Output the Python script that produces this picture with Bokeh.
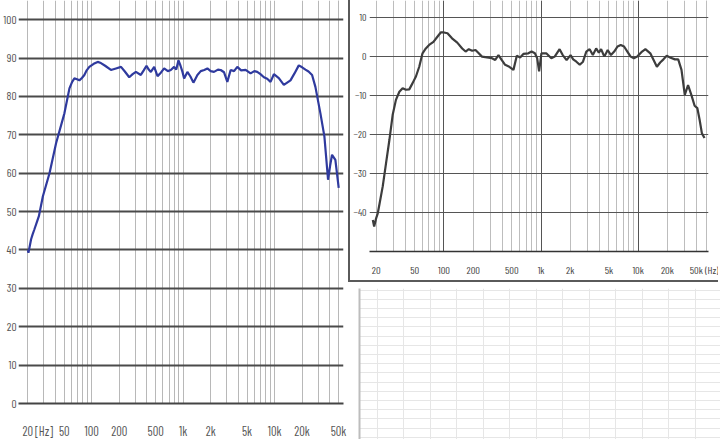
from bokeh.plotting import figure
from bokeh.layouts import row, column
from bokeh.models import FixedTicker, Grid, Range1d
from bokeh.embed import file_html
from bokeh.resources import INLINE

# ---------------- data ----------------
spl_freq = [20, 20.3, 21.7, 22.5, 23.6, 25.3, 26.4, 29.2, 34.5, 40.7, 50.2, 57, 61, 64.6, 69,
            73.2, 78, 83, 88, 94, 105, 116, 126, 140, 162, 184, 209, 230, 257, 280, 304, 344,
            370, 397, 420, 443, 482, 524, 570, 619, 680, 732, 796, 840, 888, 935, 982, 1024,
            1112, 1200, 1294, 1431, 1556, 1700, 1839, 2000, 2174, 2400, 2570, 2800, 3040, 3306,
            3600, 3908, 4300, 4820, 5460, 6000, 6457, 7000, 7636, 8300, 9027, 9820, 11120,
            12620, 14920, 16500, 18390, 20000, 21740, 23500, 25700, 27940, 31700, 35040, 38420,
            40500, 42480, 46200, 50240]
spl_db = [40.0, 39.3, 42.8, 44.0, 45.4, 47.5, 48.8, 54.0, 60.0, 67.8, 75.6, 82.1, 83.8, 84.7, 84.5,
          84.2, 84.8, 85.6, 86.8, 87.7, 88.5, 89.0, 88.7, 88.0, 86.9, 87.3, 87.7, 86.5, 85.0, 85.8,
          86.4, 85.6, 86.8, 88.0, 87.0, 86.4, 87.7, 85.3, 86.2, 87.3, 86.6, 86.9, 87.7, 87.0, 89.4,
          88.0, 86.4, 84.7, 86.4, 85.2, 83.6, 85.6, 86.6, 86.9, 87.3, 86.6, 86.4, 87.0, 86.9, 86.3,
          83.8, 86.9, 86.6, 87.7, 86.8, 86.9, 86.0, 86.6, 86.4, 85.8, 85.0, 84.6, 83.8, 85.8, 84.8,
          83.0, 84.2, 86.0, 88.1, 87.6, 87.0, 86.5, 85.6, 82.5, 75.6, 69.6, 58.3, 62.0, 64.8, 63.5,
          56.2]

rel_freq = [18.5, 19.1, 20, 20.8, 21.6, 23.4, 25.3, 27.4, 29.6, 32.0, 34.7, 37.5, 40.6, 43.9, 47.5,
            51.4, 55.6, 60.1, 65, 70.3, 77.9, 85.5, 92.6, 100, 108.6, 121, 137, 154, 167, 180, 195,
            211, 228, 246, 277, 312, 337, 364, 394, 426, 471, 519, 562, 608, 657, 739, 798, 863,
            911, 954, 1007, 1130, 1275, 1380, 1550, 1670, 1830, 2010, 2140, 2310, 2500, 2700, 2920,
            3160, 3410, 3690, 3930, 4150, 4480, 4850, 5240, 5660, 6120, 6610, 7150, 7730, 8350,
            9030, 9750, 10960, 11850, 13320, 14400, 15570, 16830, 18190, 19660, 21250, 23880,
            25810, 27900, 30160, 32600, 35240, 38090, 40600, 42870, 45280, 48150]
rel_db = [-41.9, -43.6, -41.5, -40.2, -38.0, -33.3, -27.4, -21.4, -15.0, -11.1, -9.0, -8.1, -8.5,
          -8.4, -6.8, -5.1, -2.6, 0.85, 2.1, 3.0, 3.8, 5.1, 6.2, 6.2, 6.0, 4.7, 3.6, 2.1, 1.3, 1.9,
          1.5, 1.7, 0.85, 0.0, -0.2, -0.4, -0.85, 0.4, -0.9, -2.1, -2.6, -3.4, 0.2, -0.2, 0.7, 0.85,
          1.3, 0.85, -0.4, -3.8, 0.85, 0.85, -0.4, 0.0, 1.9, 0.4, -0.9, 0.4, -0.7, -1.3, -2.1, -1.3,
          1.3, 1.9, 0.4, 2.1, 1.0, 1.9, 0.0, 1.7, 0.4, 1.3, 2.6, 3.0, 2.6, 1.3, 0.0, -0.4, 0.0, 1.3,
          1.9, 0.85, -0.85, -2.6, -1.5, -0.7, 0.2, -0.2, -0.7, -0.7, -3.4, -9.8, -7.3, -9.8, -12.6,
          -13.2, -16.2, -19.7, -20.9]

left_y_ticks = [0, 10, 20, 30, 40, 50, 60, 70, 80, 90, 100]
left_x_ticks = [20, 30, 50, 100, 200, 500, 1000, 2000, 5000, 10000, 20000, 50000]
left_x_labels = ["20", "[Hz]", "50", "100", "200", "500", "1k", "2k", "5k", "10k", "20k", "50k"]
right_x_ticks = [20, 50, 100, 200, 500, 1000, 2000, 5000, 10000, 20000, 50000]
right_x_labels = ["20", "50", "100", "200", "500", "1k", "2k", "5k", "10k", "20k", "50k (Hz)"]
right_y_ticks = [-40, -30, -20, -10, 0, 10]
decade_ticks = [100, 1000, 10000]
minor_grid = [m * 10 ** d for d in range(1, 5) for m in range(1, 10) if 20 <= m * 10 ** d <= 50000] + [50000]

FONT = "Barlow Condensed"


def style_axis(ax, size, color, standoff):
    ax.major_label_text_font = FONT
    ax.major_label_text_font_size = size
    ax.major_label_text_color = color
    ax.major_label_standoff = standoff
    ax.major_tick_line_color = None
    ax.minor_tick_line_color = None
    ax.major_tick_out = 0
    ax.major_tick_in = 0
    ax.minor_tick_out = 0
    ax.minor_tick_in = 0


# ---------------- left panel ----------------
p1 = figure(width=348, height=441, x_axis_type="log",
            x_range=Range1d(15.8, 56700), y_range=Range1d(0, 105),
            output_backend="svg", toolbar_location=None, frame_align=False,
            min_border_left=17, min_border_right=5, min_border_top=0, min_border_bottom=36)
p1.outline_line_color = None
p1.yaxis.ticker = FixedTicker(ticks=left_y_ticks)
p1.yaxis.axis_line_color = None
style_axis(p1.yaxis, "11.5px", "#555555", 2)
p1.xaxis.ticker = FixedTicker(ticks=left_x_ticks)
p1.xaxis.major_label_overrides = {t: l for t, l in zip(left_x_ticks, left_x_labels)}
p1.xaxis.axis_line_color = "#444444"
p1.xaxis.axis_line_width = 2
style_axis(p1.xaxis, "12.5px", "#555555", 19)
p1.ygrid.ticker = FixedTicker(ticks=left_y_ticks)
p1.ygrid.grid_line_color = "#4a4a4a"
p1.ygrid.grid_line_width = 2
p1.xgrid.ticker = FixedTicker(ticks=minor_grid)
p1.xgrid.grid_line_color = "#b8b8b8"
p1.xgrid.grid_line_width = 1
p1.line(spl_freq, spl_db, line_color="#2f3a9e", line_width=2.2)

# ---------------- right top panel ----------------
p2 = figure(width=370, height=282, x_axis_type="log",
            x_range=Range1d(17.1, 52930), y_range=Range1d(-50, 14.4),
            output_backend="svg", toolbar_location=None, frame_align=False,
            min_border_left=17, min_border_right=12, min_border_top=0, min_border_bottom=31)
p2.styles = {"border-left": "2px solid #5a5a5a", "border-bottom": "2px solid #5a5a5a"}
p2.outline_line_color = None
p2.yaxis.ticker = FixedTicker(ticks=right_y_ticks)
p2.yaxis.axis_line_color = None
style_axis(p2.yaxis, "10px", "#444444", 3)
p2.xaxis.ticker = FixedTicker(ticks=right_x_ticks)
p2.xaxis.major_label_overrides = {t: l for t, l in zip(right_x_ticks, right_x_labels)}
p2.xaxis.axis_line_color = "#333333"
p2.xaxis.axis_line_width = 1.5
style_axis(p2.xaxis, "10.5px", "#444444", 11)
p2.ygrid.ticker = FixedTicker(ticks=right_y_ticks)
p2.ygrid.grid_line_color = "#555555"
p2.ygrid.grid_line_width = 1
p2.xgrid.ticker = FixedTicker(ticks=minor_grid)
p2.xgrid.grid_line_color = "#bdbdbd"
p2.xgrid.grid_line_width = 1
p2.add_layout(Grid(dimension=0, ticker=FixedTicker(ticks=decade_ticks),
                   grid_line_color="#555555", grid_line_width=1))
p2.line(rel_freq, rel_db, line_color="#3d3d3d", line_width=2.2)

# ---------------- right bottom panel (empty grid) ----------------
grid_x = list(range(0, 14))
grid_y = list(range(0, 17))
p3 = figure(width=372, height=157, x_range=Range1d(-0.668, 12.95), y_range=Range1d(-0.23, 16.18),
            output_backend="svg", toolbar_location=None, frame_align=False,
            min_border_left=11, min_border_right=0, min_border_top=6, min_border_bottom=0)
p3.outline_line_color = None
p3.xaxis.visible = False
p3.yaxis.ticker = FixedTicker(ticks=grid_y)
style_axis(p3.yaxis, "1px", None, 0)
p3.yaxis.axis_line_color = "#bdbdbd"
p3.yaxis.axis_line_width = 2
p3.xgrid.ticker = FixedTicker(ticks=grid_x)
p3.ygrid.ticker = FixedTicker(ticks=grid_y)
p3.xgrid.grid_line_color = "#e6e6e6"
p3.ygrid.grid_line_color = "#e6e6e6"

layout = row(p1, column(p2, p3))

open("out.html", "w").write(file_html(layout, INLINE))
